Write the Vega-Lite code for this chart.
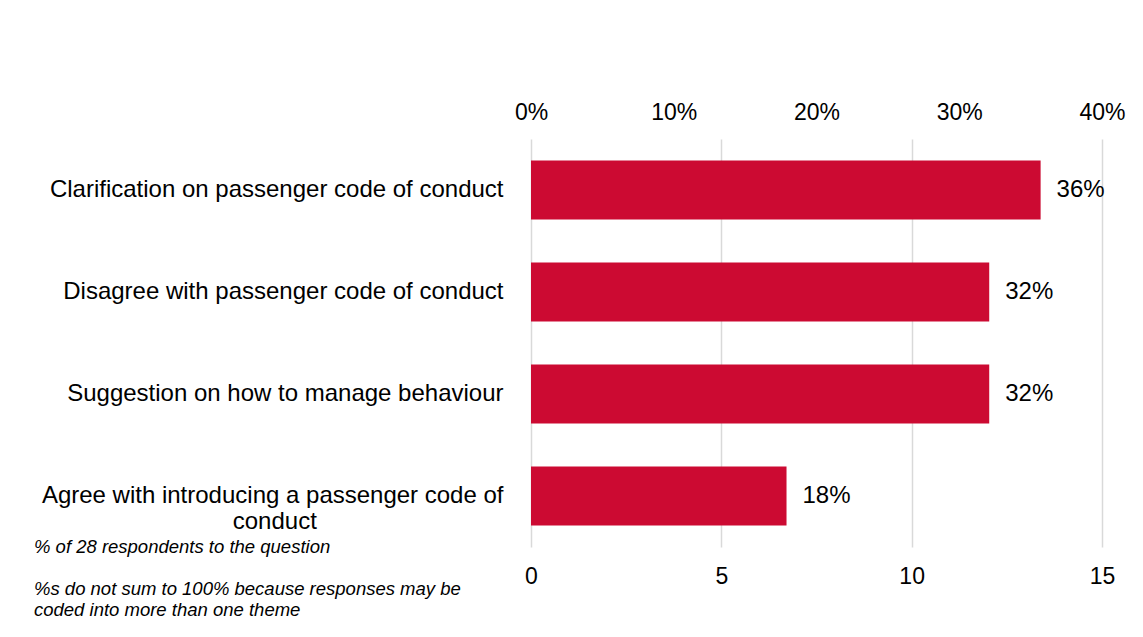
{
  "$schema": "https://vega.github.io/schema/vega-lite/v6.json",
  "width": 571,
  "height": 408,
  "autosize": {"type": "none"},
  "padding": {"left": 531, "top": 139, "right": 41, "bottom": 90},
  "background": "white",
  "config": {"view": {"stroke": null}, "font": "Liberation Sans"},
  "title": {
    "text": ["% of 28 respondents to the question", "\u200b", "%s do not sum to 100% because responses may be", "coded into more than one theme"],
    "orient": "bottom",
    "anchor": "start",
    "frame": "group",
    "align": "left",
    "baseline": "top",
    "dx": -497,
    "dy": -54,
    "fontSize": 18.5,
    "fontStyle": "italic",
    "fontWeight": "normal",
    "font": "Liberation Sans",
    "color": "#000000",
    "lineHeight": 21
  },
  "data": {
    "values": [
      {"theme": "Clarification on passenger code of conduct", "share": 0.357, "count": 10},
      {"theme": "Disagree with passenger code of conduct", "share": 0.321, "count": 9},
      {"theme": "Suggestion on how to manage behaviour", "share": 0.321, "count": 9},
      {"theme": "Agree with introducing a passenger code of conduct", "share": 0.179, "count": 5}
    ]
  },
  "encoding": {
    "y": {
      "field": "theme",
      "type": "nominal",
      "sort": null,
      "scale": {"paddingInner": 0.42, "paddingOuter": 0.21},
      "axis": {
        "title": null,
        "ticks": false,
        "tickSize": 0,
        "domain": false,
        "labelPadding": 28,
        "labelFontSize": 24,
        "labelColor": "#000000",
        "labelAlign": "right",
        "labelBaseline": "middle",
        "labelLimit": 700,
        "labelLineHeight": 26,
        "labelExpr": "datum.value == 'Agree with introducing a passenger code of conduct' ? ['Agree with introducing a passenger code of', 'conduct\u00a0\u00a0\u00a0\u00a0\u00a0\u00a0\u00a0\u00a0\u00a0\u00a0\u00a0\u00a0\u00a0\u00a0\u00a0\u00a0\u00a0\u00a0\u00a0\u00a0\u00a0\u00a0\u00a0\u00a0\u00a0\u00a0\u00a0\u00a0\u200b'] : datum.value"
      }
    }
  },
  "layer": [
    {
      "mark": {"type": "tick", "opacity": 0},
      "encoding": {
        "x": {
          "field": "count",
          "type": "quantitative",
          "scale": {"domain": [0, 15], "nice": false, "zero": true},
          "axis": {
            "orient": "bottom",
            "title": null,
            "values": [0, 5, 10, 15],
            "format": "d",
            "grid": true,
            "gridColor": "#D9D9D9",
            "gridWidth": 1.5,
            "domain": false,
            "ticks": false,
            "tickSize": 0,
            "labelPadding": 18,
            "labelFontSize": 23,
            "labelColor": "#000000",
            "labelFlush": false,
            "labelOverlap": false
          }
        }
      }
    },
    {
      "encoding": {
        "x": {
          "field": "share",
          "type": "quantitative",
          "scale": {"domain": [0, 0.4], "nice": false},
          "axis": {
            "orient": "top",
            "title": null,
            "values": [0, 0.1, 0.2, 0.3, 0.4],
            "format": ".0%",
            "grid": false,
            "domain": false,
            "ticks": false,
            "tickSize": 0,
            "labelPadding": 15,
            "labelFontSize": 23,
            "labelColor": "#000000",
            "labelFlush": false,
            "labelOverlap": false
          }
        }
      },
      "layer": [
        {"mark": {"type": "bar", "color": "#CC0A32"}},
        {
          "mark": {"type": "text", "align": "left", "baseline": "middle", "dx": 16, "fontSize": 24, "color": "#000000", "font": "Liberation Sans"},
          "encoding": {"text": {"field": "share", "type": "quantitative", "format": ".0%"}}
        }
      ]
    }
  ],
  "resolve": {"scale": {"x": "independent"}}
}
